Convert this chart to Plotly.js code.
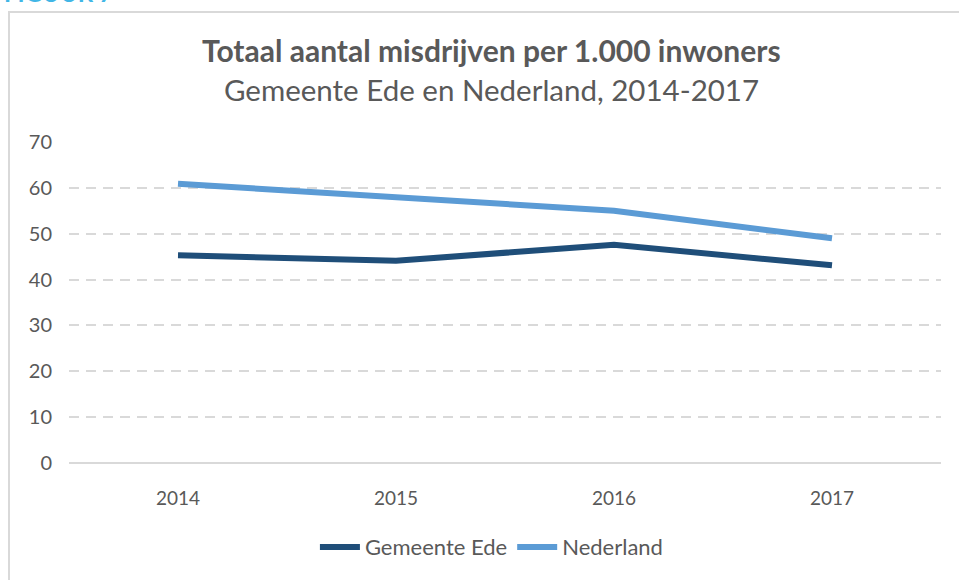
<!DOCTYPE html>
<html>
<head>
<meta charset="utf-8">
<script src="https://cdn.plot.ly/plotly-3.0.1.min.js"></script>
<style>
  html, body { margin: 0; padding: 0; background: #fff; }
  #wrap { position: relative; width: 959px; height: 580px; overflow: hidden; }
  #frame { position: absolute; left: 8px; top: 11px; width: 960px; height: 600px;
           border-left: 2px solid #d9d9d9; border-top: 2px solid #d9d9d9; }
  #chart { position: absolute; left: 0; top: 0; width: 959px; height: 580px; }
</style>
</head>
<body>
<div id="wrap">
  <div id="frame"></div>
  <div id="chart"></div>
</div>
<script>
const years = ['2014', '2015', '2016', '2017'];
const ede = [45.3, 44.1, 47.6, 43.1];
const nederland = [60.9, 58.0, 55.0, 49.0];
const yTicks = [0, 10, 20, 30, 40, 50, 60, 70];

const font = "Lato, 'Open Sans', sans-serif";
const grey = '#595959';

const traces = [
  { x: years, y: ede, name: 'Gemeente Ede', type: 'scatter', mode: 'lines',
    line: { color: '#1f4e79', width: 6 } },
  { x: years, y: nederland, name: 'Nederland', type: 'scatter', mode: 'lines',
    line: { color: '#5b9bd5', width: 6 } }
];

const layout = {
  width: 959, height: 580,
  margin: { l: 69, r: 18, t: 142, b: 117 },
  paper_bgcolor: 'rgba(0,0,0,0)',
  plot_bgcolor: 'rgba(0,0,0,0)',
  font: { family: font, color: grey },
  showlegend: true,
  legend: { orientation: 'h', x: 0.485, xanchor: 'center', y: -0.262, yanchor: 'middle',
            font: { size: 22, color: grey, family: font }, itemwidth: 40, traceorder: 'normal' },
  xaxis: { type: 'category', range: [-0.5, 3.5], showgrid: false, zeroline: false, showline: false,
           ticks: '', tickfont: { size: 19, color: grey, family: font }, ticklabelstandoff: 22 },
  yaxis: { range: [0, 70], tickvals: yTicks, ticktext: yTicks.map(String),
           showgrid: true, gridcolor: '#d9d9d9', griddash: '10px,7px', gridwidth: 2,
           zeroline: true, zerolinecolor: '#d9d9d9', zerolinewidth: 1.5,
           showline: false, ticks: '', tickfont: { size: 20, color: grey, family: font },
           ticklabelstandoff: 16 },
  annotations: [
    { text: '<b>Totaal aantal misdrijven per 1.000 inwoners</b>', xref: 'paper', yref: 'paper',
      x: 0.484, y: 1.287, xanchor: 'center', yanchor: 'middle', showarrow: false,
      font: { size: 30, color: grey, family: font } },
    { text: 'Gemeente Ede en Nederland, 2014-2017', xref: 'paper', yref: 'paper',
      x: 0.484, y: 1.162, xanchor: 'center', yanchor: 'middle', showarrow: false,
      font: { size: 29.5, color: grey, family: font } },
    { text: '<b>FIGUUR 7</b>', xref: 'paper', yref: 'paper',
      x: -0.077, y: 1.467, xanchor: 'left', yanchor: 'middle', showarrow: false,
      font: { size: 24, color: '#41b6e6', family: font } }
  ]
};

Plotly.newPlot('chart', traces, layout, { displayModeBar: false, staticPlot: true });
</script>
</body>
</html>
